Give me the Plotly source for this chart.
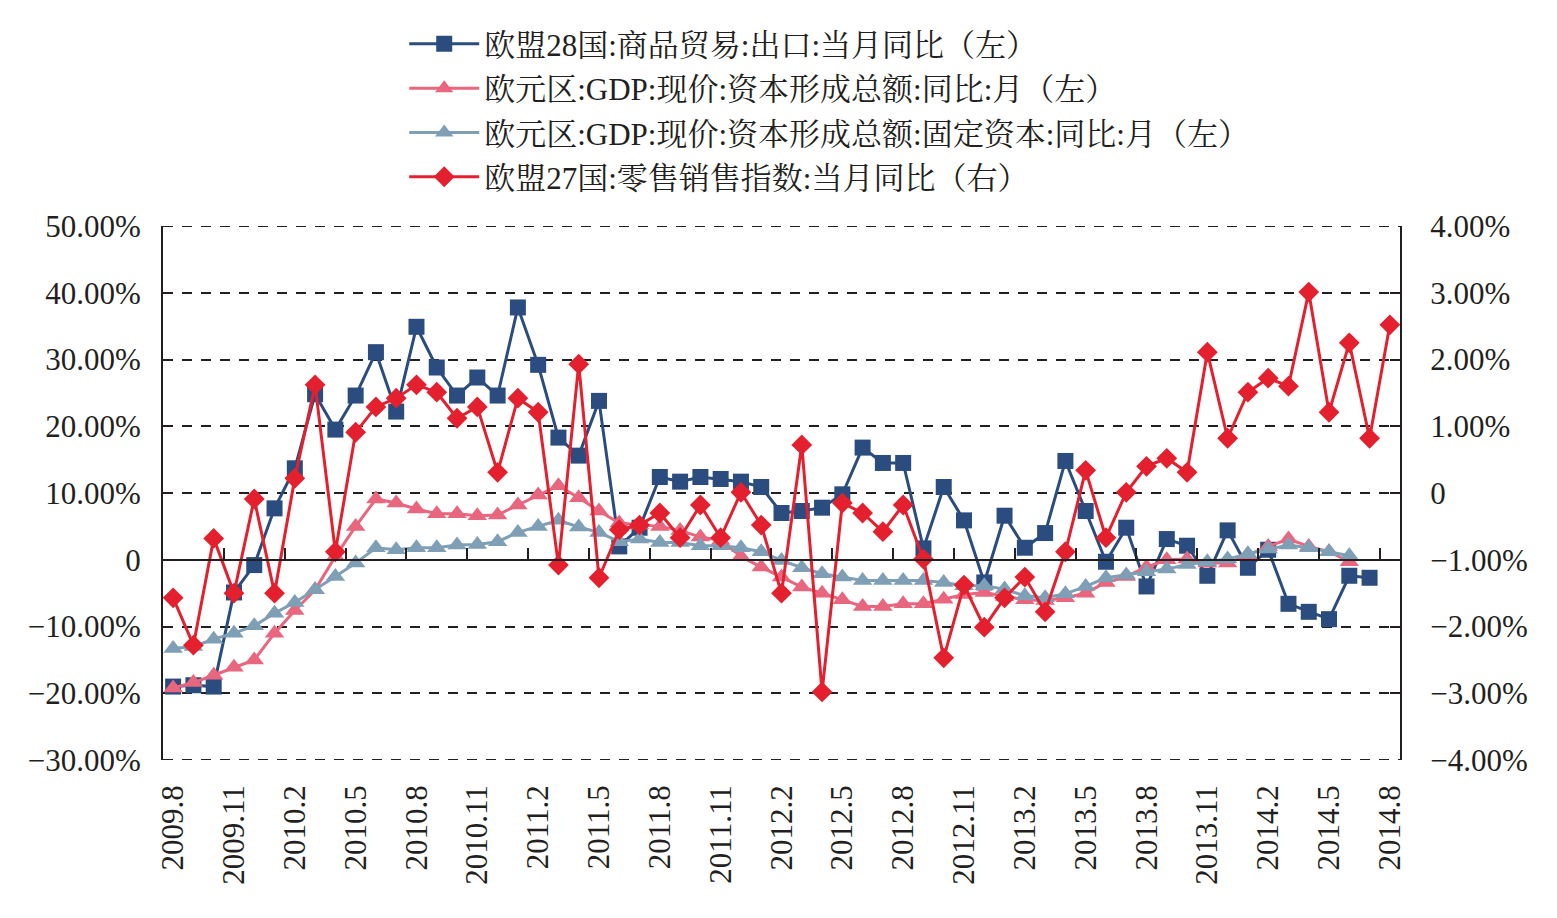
import plotly.graph_objects as go

# ---- categories (monthly, 2009.8 – 2014.8) ----
months = [f"{y}.{m}" for y in range(2009, 2015) for m in range(1, 13)]
months = months[months.index("2009.8"): months.index("2014.8") + 1]
tick_labels = months[::3]

# ---- series (percent) ----
exports_eu28 = [-19.0, -18.8, -19.0, -4.9, -0.8, 7.7, 13.7, 24.8, 19.5, 24.6,
                31.1, 22.2, 34.9, 28.8, 24.6, 27.3, 24.6, 37.8, 29.2, 18.3,
                15.6, 23.8, 2.0, 4.8, 12.4, 11.7, 12.4, 12.1, 11.7, 10.9,
                7.0, 7.3, 7.8, 9.8, 16.8, 14.5, 14.5, 1.7, 10.9, 5.9,
                -3.4, 6.6, 1.8, 4.0, 14.8, 7.3, -0.3, 4.8, -4.0, 3.1,
                2.1, -2.4, 4.4, -1.2, 1.5, -6.6, -7.8, -8.9, -2.4, -2.7]

gdp_capital = [-19.2, -18.4, -17.3, -16.1, -15.0, -11.0, -7.6, -4.5, 0.5, 5.0,
               9.1, 8.5, 7.6, 6.9, 6.9, 6.6, 6.7, 8.2, 9.7, 11.1,
               9.3, 7.3, 5.5, 5.2, 5.0, 4.4, 3.4, 2.9, 0.5, -1.1,
               -2.6, -4.1, -5.0, -6.0, -7.0, -7.0, -6.6, -6.6, -5.9, -5.2,
               -4.9, -5.5, -6.0, -6.1, -5.7, -5.0, -3.4, -2.5, -1.1, 0.0,
               0.1, -0.5, -0.5, 0.7, 2.0, 3.1, 2.0, 1.2, -0.3]

gdp_fixed_capital = [-13.3, -13.0, -11.9, -11.0, -9.9, -8.0, -6.4, -4.5, -2.5, -0.5,
                     1.8, 1.5, 1.8, 1.8, 2.2, 2.3, 2.7, 4.1, 5.0, 5.9,
                     4.9, 4.1, 2.7, 3.1, 2.6, 2.6, 2.1, 2.1, 1.8, 1.2,
                     -0.1, -1.2, -2.1, -2.6, -3.1, -3.1, -3.1, -3.1, -3.4, -3.9,
                     -3.9, -4.4, -5.4, -5.7, -5.1, -4.0, -2.7, -2.3, -1.8, -1.4,
                     -0.7, -0.3, 0.1, 0.9, 1.6, 2.2, 1.8, 1.2, 0.6]

retail_eu27 = [-1.57, -2.28, -0.68, -1.50, -0.09, -1.50, 0.22, 1.62, -0.88, 0.91,
               1.29, 1.42, 1.62, 1.51, 1.12, 1.29, 0.31, 1.42, 1.21, -1.08,
               1.93, -1.27, -0.55, -0.48, -0.30, -0.67, -0.18, -0.67, 0.01, -0.48,
               -1.50, 0.72, -2.98, -0.15, -0.30, -0.58, -0.18, -0.99, -2.47, -1.38,
               -2.01, -1.57, -1.26, -1.78, -0.88, 0.34, -0.67, 0.01, 0.40, 0.52,
               0.31, 2.11, 0.82, 1.51, 1.72, 1.60, 3.01, 1.21, 2.25, 0.82, 2.52]

left_ticks = [-30, -20, -10, 0, 10, 20, 30, 40, 50]
left_text = ["−30.00%", "−20.00%", "−10.00%", "0", "10.00%", "20.00%", "30.00%", "40.00%", "50.00%"]
right_ticks = [-4, -3, -2, -1, 0, 1, 2, 3, 4]
right_text = ["−4.00%", "−3.00%", "−2.00%", "−1.00%", "0", "1.00%", "2.00%", "3.00%", "4.00%"]

names = ["欧盟28国:商品贸易:出口:当月同比（左）",
         "欧元区:GDP:现价:资本形成总额:同比:月（左）",
         "欧元区:GDP:现价:资本形成总额:固定资本:同比:月（左）",
         "欧盟27国:零售销售指数:当月同比（右）"]

FONT = "Liberation Serif, Noto Serif CJK SC, Noto Sans CJK SC, serif"
INK = "#231f20"
BLUE = "#2b4c7e"
PINK = "#e8667e"
GREYBLUE = "#7f9fb6"
RED = "#e4202f"
GRID_DASH = "10px,9px"

fig = go.Figure()
fig.add_trace(go.Scatter(x=months[:len(exports_eu28)], y=exports_eu28, name=names[0],
                         mode="lines+markers", legendgroup="a",
                         line=dict(color=BLUE, width=3),
                         marker=dict(symbol="square", size=16, color=BLUE)))
fig.add_trace(go.Scatter(x=months[:len(gdp_capital)], y=gdp_capital, name=names[1],
                         mode="lines+markers", legendgroup="b",
                         line=dict(color=PINK, width=3),
                         marker=dict(symbol="triangle-up", size=17, color=PINK)))
fig.add_trace(go.Scatter(x=months[:len(gdp_fixed_capital)], y=gdp_fixed_capital, name=names[2],
                         mode="lines+markers", legendgroup="c",
                         line=dict(color=GREYBLUE, width=3),
                         marker=dict(symbol="triangle-up", size=17, color=GREYBLUE)))
fig.add_trace(go.Scatter(x=months, y=retail_eu27, name=names[3], yaxis="y2",
                         mode="lines+markers", legendgroup="d",
                         line=dict(color=RED, width=3),
                         marker=dict(symbol="diamond", size=16, color=RED)))
# helper axis carrying the zero-line tick marks
fig.add_trace(go.Scatter(x=[], y=[], xaxis="x2", showlegend=False, hoverinfo="skip"))

# dashed gridlines at the two range ends (plotly clips grid lines on the frame edges)
for v in (left_ticks[0], left_ticks[-1]):
    fig.add_shape(type="line", xref="paper", x0=0, x1=1, yref="y", y0=v, y1=v,
                  line=dict(color=INK, width=2, dash=GRID_DASH), layer="below")

n = len(months)
fig.update_layout(
    width=1557, height=918,
    margin=dict(l=163, r=157, t=226, b=158),
    paper_bgcolor="white", plot_bgcolor="white",
    font=dict(family=FONT, color=INK, size=30),
    showlegend=True,
    legend=dict(x=0.195, y=1.391, xanchor="left", yanchor="top",
                font=dict(size=31, family=FONT, color=INK),
                itemwidth=70, tracegroupgap=1, bgcolor="rgba(0,0,0,0)"),
    xaxis=dict(type="category", range=[-0.5, n - 0.5], tickmode="array",
               tickvals=tick_labels, ticktext=tick_labels, tickangle=-90,
               showgrid=False, showline=False, zeroline=False, ticks="",
               ticklabelstandoff=18,
               tickfont=dict(size=31, family=FONT)),
    xaxis2=dict(overlaying="x", anchor="free", position=30 / 80,
                range=[-0.5, n - 0.5], tickmode="array",
                tickvals=[i + 2.5 for i in range(0, n - 1, 3)],
                showticklabels=False, ticks="inside", ticklen=11, tickwidth=2,
                tickcolor=INK, showline=True, linecolor=INK, linewidth=2,
                showgrid=False, zeroline=False),
    yaxis=dict(range=[-30, 50], tickmode="array", tickvals=left_ticks, ticktext=left_text,
               showgrid=True, gridcolor=INK, gridwidth=2, griddash=GRID_DASH,
               zeroline=False, showline=True, linecolor=INK, linewidth=2,
               ticks="", ticklabelstandoff=14, tickfont=dict(size=31, family=FONT)),
    yaxis2=dict(range=[-4, 4], overlaying="y", side="right", tickmode="array",
                tickvals=right_ticks, ticktext=right_text, showgrid=False, zeroline=False,
                showline=True, linecolor=INK, linewidth=2,
                ticks="inside", ticklen=10, tickwidth=2, tickcolor=INK,
                ticklabelstandoff=22, tickfont=dict(size=31, family=FONT)),
)

fig.write_html("out.html")
